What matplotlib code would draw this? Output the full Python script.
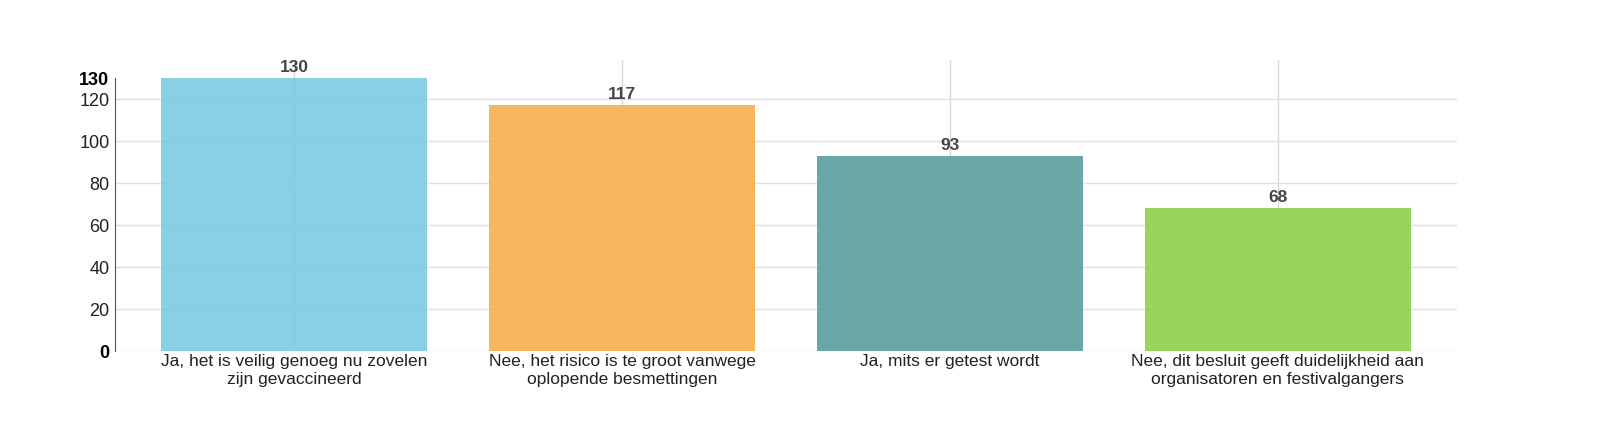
import numpy as np
import matplotlib.pyplot as plt

plt.rcParams['font.family'] = ['Liberation Sans', 'DejaVu Sans']

categories = [
    'Ja, het is veilig genoeg nu zovelen\nzijn gevaccineerd',
    'Nee, het risico is te groot vanwege\noplopende besmettingen',
    'Ja, mits er getest wordt',
    'Nee, dit besluit geeft duidelijkheid aan\norganisatoren en festivalgangers',
]
values = [130, 117, 93, 68]
colors = ['#7fcce2', '#f8b150', '#5da0a1', '#8fd24d']
y_ticks = [0, 20, 40, 60, 80, 100, 120, 130]

fig = plt.figure(figsize=(16, 4.34), dpi=100)
ax = fig.add_axes([115 / 1600, 1 - 351 / 434, (1457 - 115) / 1600, (351 - 60) / 434])

x = np.arange(len(categories))

# grid behind the slightly see-through bars
for xi in x:
    ax.axvline(xi, color='#d8d8d8', lw=1, zorder=0)
for yv in range(20, 140, 20):
    ax.axhline(yv, color='#e0e0e0', lw=1, zorder=0)
ax.axhline(0, color='#e0e0e0', lw=1, zorder=0)

ax.bar(x, values, width=0.81, color=colors, alpha=0.92, zorder=1)

for xi, v in zip(x, values):
    ax.text(xi, v + 1.5, str(v), ha='center', va='bottom', fontsize=12.5,
            fontweight='bold', color='#444444')

ax.set_xlim(-0.546, 3.546)
ax.set_ylim(0, 138.6)
ax.set_xticks(x)
ax.set_xticklabels(categories, fontsize=12.5, color='#222222', linespacing=1.3)
ax.set_yticks(y_ticks)
ax.set_yticklabels([str(t) for t in y_ticks], fontsize=13, color='#222222')
for lbl in ax.get_yticklabels():
    if lbl.get_text() in ('0', '130'):
        lbl.set_fontweight('bold')
        lbl.set_color('#000000')

ax.tick_params(axis='x', length=0, pad=2)
ax.tick_params(axis='y', length=0, pad=4)
for s in ['top', 'right', 'bottom']:
    ax.spines[s].set_visible(False)
ax.spines['left'].set_bounds(0, 130)
ax.spines['left'].set_color('#555555')

fig.savefig('out.png', dpi=100)
